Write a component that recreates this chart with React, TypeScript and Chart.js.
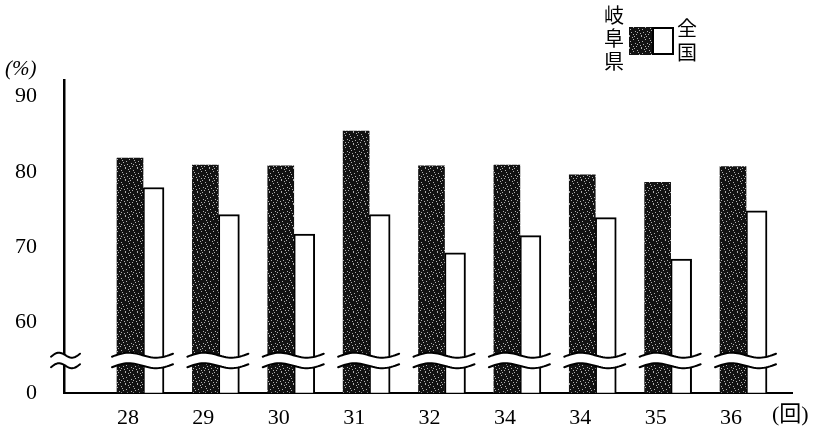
import { useEffect, useRef } from 'react';
import { Chart, registerables } from 'chart.js';

Chart.register(...registerables);

// ---- data ----
const categories = ['28', '29', '30', '31', '32', '34', '34', '35', '36'];
const gifuValues = [81.8, 80.9, 80.8, 85.4, 80.8, 80.9, 79.6, 78.6, 80.7];
const nationalValues = [77.9, 74.3, 71.7, 74.3, 69.2, 71.5, 73.9, 68.4, 74.8];
const seriesLabels = ['岐阜県', '全国'];
const yTickValues = [50.6, 60, 70, 80, 90];
const yTickLabels = ['0', '60', '70', '80', '90'];
const yUnit = '(%)';
const xUnit = '(回)';

// axis-break band (in y-scale units)
const BREAK_UPPER = 55.6;
const BREAK_LOWER = 54.2;

const NUM_FONT = '"Liberation Serif", "DejaVu Serif", serif';
const CJK_FONT = '"Noto Sans CJK JP", sans-serif';

function makePattern(): CanvasPattern | string {
  const c = document.createElement('canvas');
  c.width = 12;
  c.height = 12;
  const g = c.getContext('2d');
  if (!g) return '#222';
  g.fillStyle = '#121212';
  g.fillRect(0, 0, 12, 12);
  g.fillStyle = 'rgba(230,230,230,0.75)';
  const dots = [
    [1, 2], [5, 0], [9, 3], [3, 6], [7, 8], [11, 7], [0, 10], [5, 11], [9, 10], [2, 4],
    [6, 5], [10, 0], [4, 9], [8, 1], [1, 8],
  ];
  dots.forEach(([x, y]) => g.fillRect(x, y, 1, 1));
  return g.createPattern(c, 'repeat') || '#222';
}

function wave(x0: number, x1: number, yc: number): [number, number][] {
  const pts: [number, number][] = [];
  const n = 30;
  for (let k = 0; k <= n; k++) {
    const t = k / n;
    pts.push([x0 + t * (x1 - x0), yc - 3.2 * Math.sin(2 * Math.PI * t) - 3 * t + 1.5]);
  }
  return pts;
}

const breakPlugin = {
  id: 'axisBreak',
  afterDatasetsDraw(chart: any) {
    const { ctx, scales, chartArea } = chart;
    const y = scales.y;
    const yU = y.getPixelForValue(BREAK_UPPER);
    const yL = y.getPixelForValue(BREAK_LOWER);
    const spans: [number, number][] = [[chartArea.left - 13, chartArea.left + 16]];
    const m0 = chart.getDatasetMeta(0);
    const m1 = chart.getDatasetMeta(1);
    m0.data.forEach((bar: any, i: number) => {
      const b0 = bar.getProps(['x', 'width'], true);
      const b1 = m1.data[i].getProps(['x', 'width'], true);
      spans.push([b0.x - b0.width / 2 - 5, b1.x + b1.width / 2 + 9]);
    });
    ctx.save();
    spans.forEach(([a, b]) => {
      const up = wave(a, b, yU);
      const lo = wave(a, b, yL);
      ctx.beginPath();
      up.forEach(([px, py], k) => (k === 0 ? ctx.moveTo(px, py) : ctx.lineTo(px, py)));
      [...lo].reverse().forEach(([px, py]) => ctx.lineTo(px, py));
      ctx.closePath();
      ctx.fillStyle = '#fff';
      ctx.fill();
      ctx.strokeStyle = '#000';
      ctx.lineWidth = 2;
      ctx.lineCap = 'round';
      [up, lo].forEach((line) => {
        ctx.beginPath();
        line.forEach(([px, py], k) => (k === 0 ? ctx.moveTo(px, py) : ctx.lineTo(px, py)));
        ctx.stroke();
      });
    });
    ctx.restore();
  },
};

function makeTextPlugin(pattern: CanvasPattern | string) {
  return {
    id: 'extraText',
    afterDraw(chart: any) {
      const { ctx } = chart;
      ctx.save();
      ctx.fillStyle = '#000';
      // y unit
      ctx.font = `italic 21px ${NUM_FONT}`;
      ctx.textAlign = 'left';
      ctx.textBaseline = 'middle';
      ctx.fillText(yUnit, 5, 69);
      // x unit
      ctx.font = `22px ${NUM_FONT}, ${CJK_FONT}`;
      ctx.fillText(xUnit, 772, 415);
      // legend
      ctx.font = `20px ${CJK_FONT}`;
      ctx.textAlign = 'center';
      Array.from(seriesLabels[0]).forEach((ch, k) => ctx.fillText(ch, 614, 15 + k * 23));
      Array.from(seriesLabels[1]).forEach((ch, k) => ctx.fillText(ch, 687, 28 + k * 24));
      ctx.fillStyle = pattern as any;
      ctx.fillRect(629, 27, 24, 28);
      ctx.fillStyle = '#fff';
      ctx.fillRect(653, 27, 21, 28);
      ctx.strokeStyle = '#000';
      ctx.lineWidth = 2;
      ctx.strokeRect(653, 28, 20, 26);
      ctx.restore();
    },
  };
}

export default function App() {
  const ref = useRef<HTMLCanvasElement>(null);

  useEffect(() => {
    const prevMargin = document.body.style.margin;
    document.body.style.margin = '0';
    const canvas = ref.current;
    if (!canvas) return;
    const pattern = makePattern();
    const chart = new Chart(canvas, {
      type: 'bar',
      data: {
        datasets: [
          {
            label: seriesLabels[0],
            data: gifuValues.map((v, i) => ({ x: i, y: v })),
            backgroundColor: pattern as any,
            borderWidth: 0,
            barThickness: 26,
          },
          {
            label: seriesLabels[1],
            data: nationalValues.map((v, i) => ({ x: i, y: v })),
            backgroundColor: '#fff',
            borderColor: '#000',
            borderWidth: 2,
            borderSkipped: 'bottom',
            barThickness: 21,
          },
        ] as any,
      },
      options: {
        animation: false,
        responsive: false,
        maintainAspectRatio: false,
        layout: { padding: { top: 80, right: 23, bottom: 0, left: 0 } },
        plugins: {
          legend: { display: false },
          tooltip: { enabled: false },
        },
        scales: {
          x: {
            type: 'linear',
            offset: false,
            min: -1.048,
            max: 8.61,
            grid: { display: true, offset: false, drawOnChartArea: false, drawTicks: false },
            border: { display: true, color: '#000', width: 2 },
            ticks: {
              color: '#000',
              font: { family: NUM_FONT, size: 22 },
              padding: 12,
              labelOffset: -15,
              maxRotation: 0,
              autoSkip: false,
              callback: (v: any) => categories[Number(v)] ?? '',
            },
            afterBuildTicks: (s: any) => {
              s.ticks = categories.map((_, i) => ({ value: i }));
            },
            afterFit: (s: any) => {
              s.height = 38;
            },
          },
          y: {
            type: 'linear',
            min: 50.6,
            max: 92.2,
            grid: { display: true, drawOnChartArea: false, drawTicks: false },
            border: { display: true, color: '#000', width: 2.5 },
            ticks: {
              color: '#000',
              font: { family: NUM_FONT, size: 22 },
              padding: 27,
              callback: (v: any) => {
                const k = yTickValues.indexOf(Number(v));
                return k >= 0 ? yTickLabels[k] : '';
              },
            },
            afterBuildTicks: (s: any) => {
              s.ticks = yTickValues.map((v) => ({ value: v }));
            },
            afterFit: (s: any) => {
              s.width = 64;
            },
          },
        },
      } as any,
      plugins: [breakPlugin, makeTextPlugin(pattern)],
    });
    return () => {
      chart.destroy();
      document.body.style.margin = prevMargin;
    };
  }, []);

  return <canvas ref={ref} width={815} height={433} style={{ display: 'block' }} />;
}
